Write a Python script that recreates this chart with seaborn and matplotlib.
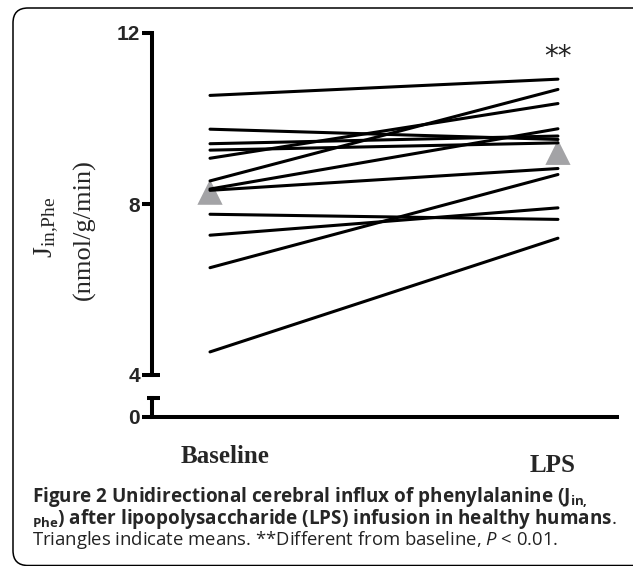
import numpy as np
import pandas as pd
import matplotlib
matplotlib.use("Agg")
import matplotlib.pyplot as plt
import seaborn as sns
from matplotlib.patches import FancyBboxPatch
from matplotlib.transforms import ScaledTranslation

# ---- data (nmol/g/min) ----
conditions = ["Baseline", "LPS"]
baseline = [10.54, 9.75, 9.41, 9.26, 9.07, 8.54, 8.35, 8.32, 7.76, 7.27, 6.51, 4.54]
lps = [10.92, 9.51, 9.59, 9.43, 10.35, 10.68, 9.76, 8.83, 7.64, 7.91, 8.69, 7.20]
y_ticks_top = [4, 8, 12]
y_ticks_bottom = [0]

n = len(baseline)
df = pd.DataFrame({
    "subject": np.tile(np.arange(n), 2),
    "condition": np.repeat(conditions, n),
    "value": baseline + lps,
})
means = df.groupby("condition", sort=False)["value"].mean().reset_index()

sns.set_style("white")
plt.rcParams["mathtext.fontset"] = "custom"
plt.rcParams["mathtext.rm"] = "Open Sans"
plt.rcParams["mathtext.bf"] = "Open Sans:bold"
plt.rcParams["mathtext.it"] = "Open Sans:italic"

W, H = 633, 566
fig = plt.figure(figsize=(W / 100, H / 100), dpi=100)
fig.patch.set_facecolor("white")

# axes placed in pixel terms: spine at x=152, axis end at 617
left, right = 152 / W, 617 / W
ax_top = fig.add_axes([left, (H - 375) / H, right - left, (375 - 33) / H])
ax_bot = fig.add_axes([left, (H - 417) / H, right - left, (417 - 398) / H])

spine_w = 2.9
xlim = (-0.1667, 1.1697)

# ---- individual subjects + means ----
sns.scatterplot(data=means, x="condition", y="value", marker="^", s=330,
                color="#a3a3a6", edgecolor="none", zorder=1, ax=ax_top, legend=False)
sns.lineplot(data=df, x="condition", y="value", units="subject", estimator=None,
             color="black", lw=2.2, ax=ax_top, legend=False, zorder=2)

ax_top.set_xlim(xlim)
ax_top.set_ylim(4, 12)
ax_top.set_xticks([])
ax_top.set_xlabel("")
for s in ["top", "right", "bottom"]:
    ax_top.spines[s].set_visible(False)
ax_top.spines["left"].set_linewidth(spine_w)
ax_top.spines["left"].set_color("black")

ax_bot.set_xlim(xlim)
ax_bot.set_ylim(0, 1)
for s in ["top", "right"]:
    ax_bot.spines[s].set_visible(False)
for s in ["left", "bottom"]:
    ax_bot.spines[s].set_linewidth(spine_w)
    ax_bot.spines[s].set_color("black")
ax_bot.set_xticks(range(len(conditions)))
ax_bot.set_xticklabels(conditions, fontfamily="Liberation Serif", fontweight="bold", fontsize=18)
ax_bot.tick_params(axis="x", length=0, pad=20)
# baseline label a bit right, LPS label a little lower in the original
offsets = [(15, 0), (-5, -9)]
for lab, (dx, dy) in zip(ax_bot.get_xticklabels(), offsets):
    lab.set_transform(lab.get_transform() + ScaledTranslation(dx / 100, dy / 100, fig.dpi_scale_trans))

tick_font = dict(fontfamily="Liberation Sans", fontweight="bold", fontsize=15)
ax_top.set_yticks(y_ticks_top)
ax_top.set_yticklabels([str(t) for t in y_ticks_top], **tick_font)
ax_bot.set_yticks(y_ticks_bottom)
ax_bot.set_yticklabels([str(t) for t in y_ticks_bottom], **tick_font)

for ax in (ax_top, ax_bot):
    ax.set_facecolor("none")
    ax.set_ylabel("")
    ax.tick_params(axis="y", length=7.5, width=spine_w, direction="out", pad=1,
                   left=True, color="black")

# axis-break caps
ax_top.plot([0, 8 / 465], [0, 0], transform=ax_top.transAxes, color="black",
            lw=spine_w, clip_on=False, solid_capstyle="butt")
ax_bot.plot([-5 / 465, 8 / 465], [1, 1], transform=ax_bot.transAxes, color="black",
            lw=spine_w, clip_on=False, solid_capstyle="butt")

# significance mark over LPS
ax_top.text(1, 11.25, "**", ha="center", va="baseline", fontsize=20,
            fontfamily="DejaVu Sans", color="#222222")

# y label (two lines, serif)
fig.text(47 / W, (H - 227) / H, r"$\mathregular{J_{in{,}Phe}}$", rotation=90,
         ha="center", va="center", fontfamily="Liberation Serif", fontsize=20)
fig.text(84 / W, (H - 230) / H, "(nmol/g/min)", rotation=90,
         ha="center", va="center", fontfamily="Liberation Serif", fontsize=19)

# caption
cap_x = 32 / W
fig.text(cap_x, (H - 502) / H,
         r"Figure 2 Unidirectional cerebral influx of phenylalanine (${\mathbf{J}}_{\mathbf{in,}}$",
         fontfamily="Open Sans", fontweight="bold", fontsize=13.6, va="baseline")
fig.text(cap_x, (H - 524) / H,
         r"${}_{\mathbf{Phe}}$) after lipopolysaccharide (LPS) infusion in healthy humans$\mathrm{.}$",
         fontfamily="Open Sans", fontweight="bold", fontsize=13.6, va="baseline")
fig.text(cap_x, (H - 545) / H,
         r"Triangles indicate means. **Different from baseline, $\mathit{P}$ < 0.01.",
         fontfamily="Open Sans", fontsize=13.3, va="baseline", color="#222222")

# rounded border around the whole panel (right side runs off the canvas)
box = FancyBboxPatch((0.13, 0.005), 6.45, 5.575, boxstyle="round,pad=0,rounding_size=0.15",
                     transform=fig.dpi_scale_trans, fill=False, edgecolor="black", lw=1.1)
fig.add_artist(box)

fig.savefig("out.png", dpi=100)
